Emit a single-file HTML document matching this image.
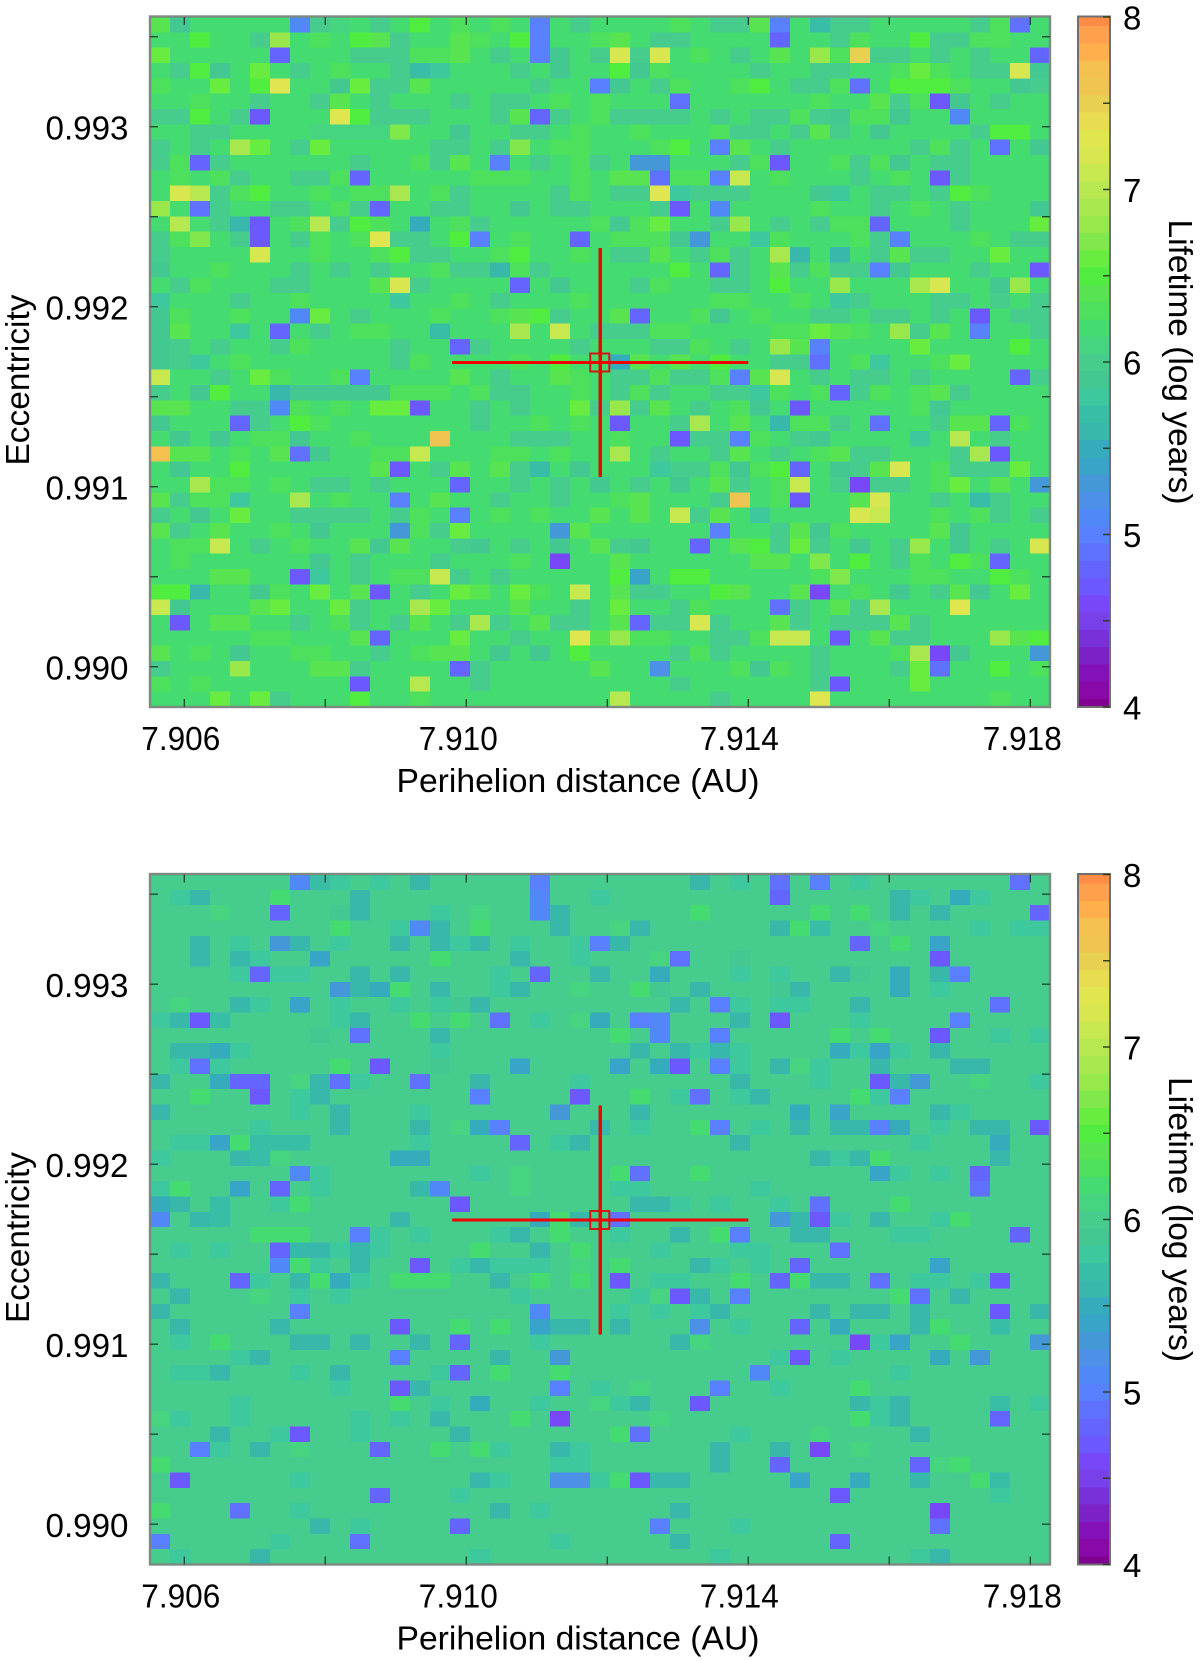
<!DOCTYPE html>
<html lang="en">
<head>
<meta charset="utf-8">
<title>Lifetime maps</title>
<style>
html,body{margin:0;padding:0;background:#fff;}
svg{display:block;}
text{font-family:"Liberation Sans",sans-serif;fill:#000;}
</style>
</head>
<body>
<svg id="chart" xmlns="http://www.w3.org/2000/svg" width="1200" height="1661" viewBox="0 0 1200 1661"></svg>
<script>
// Lifetime values are stored in tenths of log years (62 = 6.2).
const backgroundTop = 62;
const backgroundBottom = 60;
// Each row lists column,value pairs that differ from the panel background.
const cellsTop = [
[0,64,1,59,7,51,8,60,9,61,11,60,13,65,15,63,17,63,19,50,21,60,26,63,28,60,29,60,30,64,31,50,33,57,34,60,35,60,41,60,42,63,43,49],
[2,65,5,60,6,68,8,63,10,65,11,64,12,60,15,64,16,63,18,65,19,50,22,63,23,64,25,60,26,60,31,48,34,60,35,63,38,65,39,60,40,60,41,63,42,63],
[0,66,6,48,10,60,11,60,12,60,13,63,14,63,15,64,17,60,19,50,20,59,22,60,23,72,24,60,25,72,27,63,29,60,31,64,33,68,34,63,35,75,36,60,37,60,39,60,41,60,44,48],
[1,60,2,65,3,59,5,66,7,60,9,63,12,60,13,57,14,58,18,60,20,59,23,65,24,59,25,63,30,60,33,60,34,60,37,63,38,66,39,63,41,60,42,60,43,72,44,59],
[0,63,3,66,5,65,6,73,9,59,10,66,11,60,12,60,13,64,19,60,22,50,23,59,25,60,26,63,29,63,30,65,32,60,33,60,34,63,35,49,37,65,38,65,39,65,40,63,43,59,44,60],
[2,63,5,60,8,60,9,64,11,60,15,60,17,60,18,60,20,63,22,63,26,49,33,63,36,64,37,60,38,63,39,47,40,59,42,60],
[0,60,1,60,2,65,4,60,5,47,9,73,10,65,11,60,12,60,13,60,17,60,18,64,19,48,20,60,22,63,23,60,24,60,25,60,26,60,28,60,30,60,31,60,32,63,33,60,34,59,35,63,36,63,37,59,40,51],
[2,60,3,60,8,61,9,61,10,61,11,61,12,67,15,59,18,60,19,60,21,63,24,63,28,63,29,60,30,60,32,60,33,64,34,60,36,59,41,60,42,65,43,65],
[0,60,2,60,4,69,5,66,7,60,8,66,14,60,15,60,17,60,18,67,20,63,21,63,25,63,26,65,28,50,29,64,31,60,38,60,39,63,40,60,42,49,44,59],
[0,60,1,63,2,48,3,60,10,60,13,63,14,60,15,64,17,50,19,60,21,63,22,60,24,53,25,53,29,60,30,63,31,47,34,63,35,60,36,63,37,59,39,60,40,60],
[1,63,3,63,4,60,7,60,8,60,9,63,10,48,16,63,17,63,18,63,21,63,23,64,24,64,25,49,26,63,27,63,28,50,29,71,31,63,35,60,37,63,39,47,40,60],
[1,72,2,70,3,60,4,63,5,65,8,63,10,63,11,63,12,69,14,63,15,60,20,60,21,63,23,60,24,60,25,73,26,58,27,60,28,60,29,60,33,59,34,58,36,60,37,60,39,60,40,65,41,63],
[0,68,2,49,3,60,6,60,7,60,9,63,10,60,11,48,14,60,15,60,18,59,20,60,21,60,25,60,26,47,28,51,33,63,36,60,38,63,40,60,44,59],
[1,70,3,60,4,56,5,47,7,63,8,70,9,60,10,65,11,63,13,55,15,63,16,60,22,63,23,59,24,63,25,66,28,60,29,68,31,60,33,60,34,63,35,63,36,48,40,60,44,66],
[0,60,1,63,2,67,4,60,5,47,7,60,8,63,10,63,11,73,12,60,13,60,15,65,16,50,18,63,21,48,23,63,24,63,25,63,26,59,27,53,30,58,31,63,35,63,36,60,37,50,41,63,43,60,44,60],
[0,60,5,72,8,63,11,63,12,65,13,60,14,60,17,63,18,65,21,63,23,60,24,60,25,64,27,60,28,63,29,60,31,69,32,56,34,56,36,60,37,64,38,60,39,60,42,66],
[0,59,3,63,7,60,9,60,11,60,14,63,15,60,16,60,17,56,18,63,19,60,26,65,28,48,29,60,31,64,32,60,33,63,34,60,35,60,36,50,37,59,41,60,44,47],
[1,60,2,63,6,60,7,60,11,64,12,72,13,60,18,48,20,59,24,60,25,63,28,60,29,60,31,65,34,68,38,69,39,72,42,59,43,68],
[0,58,4,60,7,63,12,58,15,63,17,60,21,63,28,63,29,63,32,63,34,58,35,60,39,60,40,60,42,60,44,60],
[0,59,1,63,4,63,7,51,8,66,10,60,14,63,17,63,18,64,19,65,20,60,23,64,24,48,27,63,28,59,30,63,33,60,34,60,36,60,37,60,39,60,41,47,43,60,44,60],
[0,59,1,64,4,58,6,48,8,60,10,63,11,63,14,57,18,69,20,71,22,60,23,60,24,60,25,63,26,63,31,63,32,63,33,66,34,64,35,63,37,68,38,60,39,64,41,50,44,60],
[0,59,1,60,3,60,6,60,7,63,12,60,15,48,16,60,21,60,25,60,26,60,27,63,29,60,31,68,32,64,33,50,38,66,43,65],
[0,59,1,60,2,58,4,63,12,60,13,63,18,63,20,65,23,55,24,64,26,64,28,65,31,60,32,60,33,49,35,63,36,58,39,63,40,66],
[0,71,3,60,5,66,6,63,9,63,10,50,15,64,17,60,20,64,21,63,23,60,24,60,25,63,26,60,27,60,28,63,29,50,30,64,31,72,33,60,35,60,36,60,38,60,43,48,44,60],
[0,60,2,59,3,65,6,56,7,59,8,59,9,59,10,59,11,59,12,63,13,63,14,63,16,63,17,60,18,60,21,63,23,60,24,63,25,60,28,60,29,60,30,58,31,63,33,63,34,48,35,60,36,63,38,63,39,64,40,60],
[0,64,1,64,4,60,5,60,6,51,7,63,9,63,11,66,12,66,13,47,16,60,18,60,21,66,22,60,23,68,24,60,25,64,27,60,29,63,30,59,32,47,38,63,39,59],
[0,59,4,48,5,60,7,65,8,63,16,60,19,63,21,63,23,47,26,60,27,69,29,64,31,56,32,63,33,63,34,60,36,49,39,60,40,64,41,64,42,48,43,63],
[1,59,3,59,5,63,6,63,7,59,10,63,14,76,18,60,19,60,20,60,23,63,26,47,27,60,28,60,29,50,30,63,32,60,33,59,38,58,40,70,42,60],
[0,77,1,64,2,64,4,63,6,64,7,49,8,59,11,63,12,63,13,71,17,63,18,63,20,63,23,69,25,60,28,60,29,64,31,60,33,63,34,64,35,60,36,60,40,60,41,69,42,47],
[1,59,4,65,11,64,12,47,14,60,15,64,17,64,18,60,19,57,21,59,25,58,26,60,27,60,28,63,29,59,30,63,31,65,32,48,34,59,35,60,36,64,37,72,39,63,40,60,41,60,42,60,43,66],
[2,69,3,63,4,63,6,63,8,60,9,60,11,60,15,48,18,60,20,60,22,59,24,60,26,59,28,64,29,60,31,63,32,71,34,60,35,46,36,60,37,60,39,63,40,66,42,64,44,53],
[0,64,1,60,2,63,3,63,4,58,7,69,9,63,12,50,14,64,17,60,20,60,23,63,24,64,28,60,29,76,31,63,32,47,35,64,36,72,39,60,41,57,42,60],
[0,60,2,59,4,66,7,60,8,60,9,60,10,60,12,60,13,63,15,50,17,63,19,63,22,64,24,64,26,71,27,60,28,64,30,58,35,72,36,71,39,63,41,63,42,60,44,60],
[0,64,1,60,3,64,6,63,8,59,12,53,13,63,14,60,15,66,20,53,21,64,28,50,31,60,32,64,33,59,34,63,39,64,40,59],
[1,63,2,63,3,71,5,60,7,63,10,64,11,59,12,64,15,60,16,59,18,60,20,59,22,64,23,60,24,59,27,48,29,64,30,65,31,60,32,66,33,60,35,59,37,60,38,68,40,59,42,60,44,72],
[1,63,8,59,10,60,14,60,18,63,20,46,23,64,30,64,31,64,33,67,35,65,37,60,38,63,40,65,41,63,42,48],
[3,64,4,64,7,47,8,58,10,60,12,63,13,63,14,71,15,60,17,60,23,65,24,54,26,65,27,65,33,63,34,67,38,63,39,63,42,65,43,63],
[0,65,1,65,2,56,5,59,6,63,8,66,10,64,11,47,13,60,15,66,16,64,18,66,19,63,21,71,23,64,24,60,25,60,28,65,29,64,32,64,33,46,35,63,37,59,39,60,40,64,41,59,43,66],
[0,71,1,59,5,64,6,66,9,66,10,60,13,69,14,66,18,64,21,60,23,66,26,60,27,63,31,49,32,60,34,64,35,60,36,69,40,73],
[1,47,3,64,4,64,7,60,9,63,10,60,12,60,13,64,15,60,16,69,17,60,19,64,20,60,21,60,23,64,24,48,25,60,26,60,27,72,28,60,31,64,32,60,34,60,35,60,36,60,37,64,38,60],
[5,63,6,63,10,64,11,48,15,66,18,60,21,73,22,64,23,68,24,63,25,63,28,60,29,60,30,63,31,71,32,71,34,47,36,64,37,60,38,60,42,68,43,64,44,65],
[0,64,2,63,4,59,7,63,8,63,11,60,13,63,14,64,15,64,17,59,19,59,21,65,26,60,27,63,28,60,33,60,37,63,38,69,39,46,40,59,44,53],
[0,60,4,68,8,64,9,64,10,60,15,48,16,60,22,64,25,52,29,63,30,59,31,63,33,60,37,60,38,66,39,49,42,65,44,63],
[0,63,2,63,10,47,13,70,16,60,26,60,33,60,34,47,38,66],
[3,66,5,66,6,60,10,65,13,63,23,70,28,60,33,73,42,63]
];
const cellsBottom = [
[7,51,8,57,9,58,11,58,13,56,19,50,27,56,29,58,31,49,33,50,35,58,43,49],
[1,58,2,56,6,62,10,56,19,51,22,58,31,48,37,56,38,58,40,55,41,58],
[3,61,6,48,9,59,10,56,13,60,14,58,16,61,19,51,20,56,27,62,33,62,35,62,37,56,39,56,44,48],
[9,62,12,58,13,51,14,56,16,62,20,56,23,61,24,56,31,56,32,62,33,57,36,61,41,58,43,58,44,58],
[2,56,4,58,6,53,7,56,9,58,12,56,14,56,15,58,16,56,18,58,21,58,22,50,23,56,35,48,37,62,39,54],
[2,56,4,56,5,58,8,54,14,62,18,56,21,58,25,61,26,49,29,59,39,47],
[4,58,5,48,6,58,7,58,10,56,12,56,17,58,19,48,22,56,25,55,29,58,31,58,34,56,35,59,37,55,39,56,40,50],
[9,53,10,56,11,55,12,62,14,56,17,58,18,56,21,61,24,62,25,59,27,56,31,59,32,56,37,55,39,58],
[1,61,4,56,5,58,7,54,9,58,12,58,14,58,15,59,16,56,26,56,28,50,29,58,31,58,32,58,35,56,42,49],
[0,58,1,56,2,47,3,57,9,58,10,56,13,62,15,62,17,49,19,58,21,61,22,55,24,50,25,51,29,56,31,47,35,58,40,50],
[8,59,10,49,14,56,23,62,25,51,28,50,34,62,36,62,39,47,42,58,44,58],
[1,56,2,56,3,55,4,58,14,58,24,56,26,56,27,58,28,56,29,58,34,55,35,58,36,54,37,58,39,56],
[1,58,2,49,3,58,9,62,11,47,14,59,18,54,23,54,25,55,26,47,28,50,29,58,31,56,32,61,33,58,36,56,40,56,41,56],
[0,56,3,55,4,48,5,48,7,61,8,56,9,49,10,58,13,49,16,56,21,58,29,56,33,58,36,47,37,56,38,53,41,61,44,58],
[2,62,5,47,7,58,8,56,16,50,21,47,24,62,26,58,27,49,29,58,30,56,35,62,36,58,37,50],
[0,56,7,58,9,56,13,58,20,53,24,56,32,55,34,54,39,56,40,58],
[5,58,9,56,13,56,15,61,16,55,17,50,22,56,24,58,27,62,28,50,30,58,32,56,34,56,35,56,36,50,37,55,39,58,41,56,42,56,44,47],
[1,58,2,58,3,54,4,62,5,57,6,57,7,57,13,58,18,48,20,58,21,56,29,56,38,58,42,55],
[0,58,4,56,5,57,6,61,12,55,13,55,33,56,34,58,35,56,36,62,42,56],
[7,51,8,58,16,58,18,61,23,62,24,49,27,62,36,54,37,58,39,58,41,48],
[0,58,1,62,4,54,6,48,8,58,13,56,14,51,18,61,23,58,24,58,30,58,41,49],
[0,55,1,56,3,57,6,58,7,62,15,47,24,56,25,56,26,58,28,58,31,58,33,49,37,62],
[0,51,2,56,3,57,12,56,19,55,20,62,21,56,23,49,31,53,32,56,33,47,34,58,36,56,39,58,40,62],
[5,62,6,62,7,62,10,50,11,58,13,58,17,58,18,56,20,62,23,58,26,56,28,62,29,50,32,56,33,56,37,58,38,58,43,48],
[1,58,3,58,6,48,7,56,8,56,9,58,10,56,11,58,16,62,19,56,21,62,25,58,29,58,30,58,34,49],
[6,51,7,62,8,58,10,56,13,47,15,58,16,56,17,58,18,58,19,58,21,61,23,62,27,56,28,58,30,58,32,48,39,54],
[0,56,4,48,5,58,7,56,8,62,9,55,10,58,12,62,13,62,14,62,17,56,19,62,21,62,23,47,25,58,26,58,29,62,31,48,32,62,33,56,34,56,36,49,38,58,39,58,41,58,42,47],
[1,56,5,61,7,58,9,58,18,58,24,58,25,61,26,47,27,56,29,50,37,62,38,49,40,56],
[0,56,7,50,19,51,23,58,25,58,27,58,28,56,33,56,35,56,36,56,38,56,42,47,44,56],
[1,56,6,56,12,47,15,62,17,62,19,54,20,56,21,56,23,56,27,52,29,58,32,48,34,55,38,56,39,62,42,57],
[1,58,3,62,7,56,8,56,10,56,13,56,15,48,19,58,26,56,27,61,35,46,36,58,37,54,40,62,44,53],
[4,58,5,56,12,50,17,56,20,53,31,58,32,47,34,58,39,55,41,53],
[1,58,2,58,3,56,7,58,9,56,14,58,15,48,17,62,20,62,30,51,37,58],
[9,58,12,47,13,56,20,50,22,58,24,61,28,50,31,58,35,62],
[4,58,12,62,14,58,16,55,19,58,22,61,23,58,24,56,27,47,35,56,36,58,37,56,42,57,44,58],
[0,61,1,58,4,58,10,58,12,58,14,56,18,62,20,46,25,61,35,62,36,58,37,56,42,48],
[3,56,6,58,7,47,10,58,15,56,23,62,24,49,29,58,33,61,38,56],
[2,50,3,58,5,56,7,61,11,48,14,62,16,62,17,58,20,56,21,58,28,56,31,56,33,46,35,61],
[0,62,20,58,21,58,28,56,31,48,38,48,39,61,40,62],
[1,47,7,58,16,56,17,58,20,52,21,52,22,58,23,62,24,47,25,56,26,56,32,54,35,55,38,56,41,62,42,57],
[11,48,15,58,34,47,42,58],
[0,62,4,49,7,58,17,56,19,58,26,56,39,46],
[8,56,10,58,15,48,25,50,29,58,39,49],
[0,50,6,58,10,49,20,58,26,56,34,48],
[1,58,5,56,16,58,28,58,38,58,39,56]
];
const xTickValues = [7.906,7.908,7.910,7.912,7.914,7.916,7.918];
const xLabelValues = ["7.906","7.910","7.914","7.918"];
const yTickValues = [0.9900,0.9905,0.9910,0.9915,0.9920,0.9925,0.9930,0.9935];
const yLabelValues = ["0.990","0.991","0.992","0.993"];
const colorTickValues = [4,4.5,5,5.5,6,6.5,7,7.5,8];
const colorLabelValues = ["4","5","6","7","8"];
const markerPerihelion = [7.9119];
const markerEccentricity = [0.99169];
const markerPerihelionError = [0.0021];
const markerEccentricityError = [0.000636];

const palette = ["#800090","#8808a8","#8410b8","#7c20c8","#7830d8","#7840e8","#7848f8","#6c58ff","#6464ff","#6070ff","#5880ff","#5088f8","#4c90e8","#4498d8","#38a4c8","#34acbc","#38b8aa","#38bea6","#3ec89e","#44c892","#46cc8c","#46d480","#44dc70","#4ce05c","#58e450","#50ec40","#68ec40","#80e84a","#98e84c","#a8e84e","#b8e850","#c8e850","#d8e650","#e0e650","#e8dc50","#e8d050","#f0c450","#f4c050","#ffb04c","#ffa04c","#ff8c46"];

const NS = "http://www.w3.org/2000/svg";
const svg = document.getElementById("chart");
const plotLeft = 150, plotRight = 1050, plotTop = 17, plotBottom = 707;
const barLeft = 1078, barRight = 1110;
const cols = 45, rows = 45;
const xScale = v => 184.3 + (v - 7.906) * 70500;
const yScale = v => 666.7 - (v - 0.990) * 180000;
const colorY = v => plotBottom - (v - 4) * 172.5;
const colorOf = tenths => palette[Math.max(0, Math.min(40, Math.round(tenths) - 40))];

function make(parent, tag, attrs) {
  const el = document.createElementNS(NS, tag);
  for (const key in attrs) el.setAttribute(key, attrs[key]);
  parent.appendChild(el);
  return el;
}
function expand(sparse, background) {
  return sparse.map(list => {
    const row = new Array(cols).fill(background);
    for (let i = 0; i + 1 < list.length; i += 2) row[list[i]] = list[i + 1];
    return row;
  });
}
function drawText(parent, str, x, y, opts, name) {
  const t = make(parent, "text", Object.assign({x: x, y: y, "font-size": 33}, opts));
  t.textContent = str;
  
  
  return t;
}
function drawLine(parent, x1, y1, x2, y2, stroke, width, name) {
  const l = make(parent, "line", {x1: x1, y1: y1, x2: x2, y2: y2, stroke: stroke, "stroke-width": width});
  
  
  return l;
}

function drawPanel(offsetY, sparse, background, panelName) {
  const g = make(svg, "g", {transform: "translate(0," + offsetY + ")"});
  
  

  const matrix = expand(sparse, background);
  const cellW = (plotRight - plotLeft) / cols;
  const cellH = (plotBottom - plotTop) / rows;
  const cellGroup = make(g, "g", {"shape-rendering": "crispEdges"});
  
  
  matrix.forEach((row, r) => {
    row.forEach((value, c) => {
      const rect = make(cellGroup, "rect", {
        x: plotLeft + c * cellW,
        y: plotTop + r * cellH,
        width: cellW + 0.5,
        height: cellH + 0.5,
        fill: colorOf(value)
      });
      
      
    });
  });

  const frame = make(g, "rect", {x: plotLeft, y: plotTop - 0.5, width: plotRight - plotLeft, height: plotBottom - plotTop + 0.5, fill: "none", stroke: "#7c8a80", "stroke-width": 2.4});
  
  

  xTickValues.forEach(v => {
    drawLine(g, xScale(v), plotTop, xScale(v), plotTop + 8, "#1d4a33", 1.4, "x-tick-top");
    drawLine(g, xScale(v), plotBottom, xScale(v), plotBottom - 8, "#1d4a33", 1.4, "x-tick-bottom");
  });
  yTickValues.forEach(v => {
    drawLine(g, plotLeft, yScale(v), plotLeft + 8, yScale(v), "#1d4a33", 1.4, "y-tick-left");
    drawLine(g, plotRight, yScale(v), plotRight - 8, yScale(v), "#1d4a33", 1.4, "y-tick-right");
  });

  const xNudges = [-3.5, -8, -9, -8];
  xLabelValues.forEach((s, i) => {
    drawText(g, s, xScale(parseFloat(s)) + xNudges[i], 750, {"text-anchor": "middle", textLength: 79, lengthAdjust: "spacingAndGlyphs"}, "x-tick-label");
  });
  yLabelValues.forEach(s => {
    drawText(g, s, 87, yScale(parseFloat(s)) + 13, {"text-anchor": "middle", textLength: 83, lengthAdjust: "spacingAndGlyphs"}, "y-tick-label");
  });
  drawText(g, "Perihelion distance (AU)", 578, 792, {"text-anchor": "middle", textLength: 363, lengthAdjust: "spacingAndGlyphs"}, "x-axis-title");
  drawText(g, "Eccentricity", 0, 0, {"text-anchor": "middle", textLength: 171, lengthAdjust: "spacingAndGlyphs", transform: "translate(29,380) rotate(-90)"}, "y-axis-title");

  const cx = xScale(markerPerihelion[0]);
  const cy = yScale(markerEccentricity[0]);
  const sq = make(g, "rect", {x: cx - 10, y: cy - 9, width: 19, height: 18, fill: "none", stroke: "#d01818", "stroke-width": 2});
  
  
  drawLine(g, xScale(markerPerihelion[0] - markerPerihelionError[0]), cy, xScale(markerPerihelion[0] + markerPerihelionError[0]), cy, "#f00000", 3, "marker-horizontal-bar");
  drawLine(g, cx, yScale(markerEccentricity[0] + markerEccentricityError[0]), cx, yScale(markerEccentricity[0] - markerEccentricityError[0]), "#f00000", 3.4, "marker-vertical-bar");

  const barGroup = make(g, "g", {"shape-rendering": "crispEdges"});
  
  
  palette.forEach((color, i) => {
    const v = 4 + i / 10;
    const top = Math.max(plotTop, colorY(v + 0.05));
    const bottom = Math.min(plotBottom, colorY(v - 0.05));
    const band = make(barGroup, "rect", {x: barLeft, y: top, width: barRight - barLeft, height: bottom - top + 0.5, fill: color});
    
    
  });
  const barFrame = make(g, "rect", {x: barLeft, y: plotTop - 0.5, width: barRight - barLeft, height: plotBottom - plotTop + 0.5, fill: "none", stroke: "#6f6f6f", "stroke-width": 2});
  
  
  colorTickValues.forEach(v => {
    drawLine(g, barRight, colorY(v), barRight - 7, colorY(v), "#2a3a20", 1.4, "colorbar-tick");
  });
  colorLabelValues.forEach(s => {
    drawText(g, s, 1123, colorY(parseFloat(s)) + 12.5, {}, "colorbar-label");
  });
  drawText(g, "Lifetime (log years)", 0, 0, {"text-anchor": "middle", textLength: 285, lengthAdjust: "spacingAndGlyphs", transform: "translate(1169,362) rotate(90)"}, "colorbar-title");
}

drawPanel(0, cellsTop, backgroundTop, "panel-top");
drawPanel(857.5, cellsBottom, backgroundBottom, "panel-bottom");
</script>
</body>
</html>
